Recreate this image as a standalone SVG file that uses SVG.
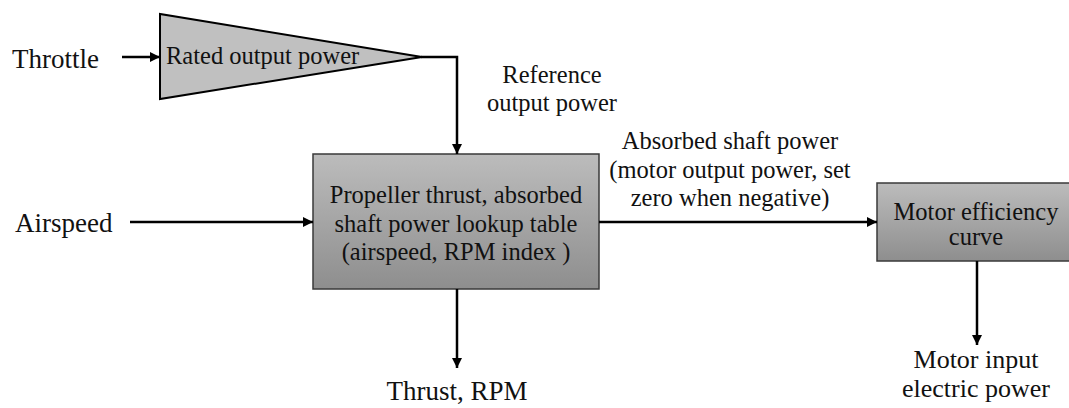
<svg xmlns="http://www.w3.org/2000/svg" width="1069" height="408" viewBox="0 0 1069 408">
  <style>
    text { font-family: "Liberation Serif", "Times New Roman", serif; fill: #111; }
    .lbl { font-size: 27px; }
    .in { font-size: 24.5px; }
    .out { font-size: 26px; }
    .mid { text-anchor: middle; }
    .wire { fill: none; stroke: #000; stroke-width: 2.5; }
    .box { fill: url(#shade); stroke: #3a3a3a; stroke-width: 1.5; }
  </style>
  <defs>
    <linearGradient id="shade" x1="0" y1="0" x2="0" y2="1">
      <stop offset="0" stop-color="#bcbcbc"/>
      <stop offset="1" stop-color="#8e8e8e"/>
    </linearGradient>
    <marker id="head" viewBox="0 0 10 10" refX="10" refY="5" markerWidth="4" markerHeight="4" orient="auto" markerUnits="strokeWidth">
      <path d="M0,0 L10,5 L0,10 z" fill="#000"/>
    </marker>
  </defs>

  <!-- inputs -->
  <g id="throttle"><text class="lbl" x="12" y="68">Throttle</text></g>
  <g id="airspeed"><text class="lbl" x="15" y="232">Airspeed</text></g>

  <!-- rated output power gain -->
  <g id="rated">
    <polygon points="160,14 160,99 422,57" fill="#c0c0c0" stroke="#000" stroke-width="2"/>
    <text class="in" x="166" y="64">Rated output power</text>
  </g>

  <!-- propeller lookup table -->
  <g id="prop">
    <rect class="box" x="313" y="154" width="286" height="135"/>
    <text class="in mid" x="456" y="203">Propeller thrust, absorbed</text>
    <text class="in mid" x="456" y="232">shaft power lookup table</text>
    <text class="in mid" x="456" y="260">(airspeed, RPM index )</text>
  </g>

  <!-- motor efficiency -->
  <g id="motor">
    <rect class="box" x="877" y="183" width="200" height="78"/>
    <text class="in mid" x="976" y="220">Motor efficiency</text>
    <text class="in mid" x="976" y="245">curve</text>
  </g>

  <!-- outputs and signal labels -->
  <g id="reference"><text class="in mid" x="552" y="83">Reference</text><text class="in mid" x="552" y="111">output power</text></g>
  <g id="absorbed">
    <text class="in mid" x="730" y="149">Absorbed shaft power</text>
    <text class="in mid" x="730" y="178">(motor output power, set</text>
    <text class="in mid" x="730" y="206">zero when negative)</text>
  </g>
  <g id="thrust"><text class="lbl mid" x="457" y="400">Thrust, RPM</text></g>
  <g id="electric">
    <text class="out mid" x="976" y="368">Motor input</text>
    <text class="out mid" x="976" y="397">electric power</text>
  </g>

  <!-- connectors -->
  <g id="connectors">
    <path class="wire" d="M122,57 H160" marker-end="url(#head)"/>
    <path class="wire" d="M421,57 H457 V154" marker-end="url(#head)"/>
    <path class="wire" d="M130,222 H313" marker-end="url(#head)"/>
    <path class="wire" d="M599,222 H877" marker-end="url(#head)"/>
    <path class="wire" d="M457,289 V368" marker-end="url(#head)"/>
    <path class="wire" d="M977,261 V345" marker-end="url(#head)"/>
  </g>
</svg>
